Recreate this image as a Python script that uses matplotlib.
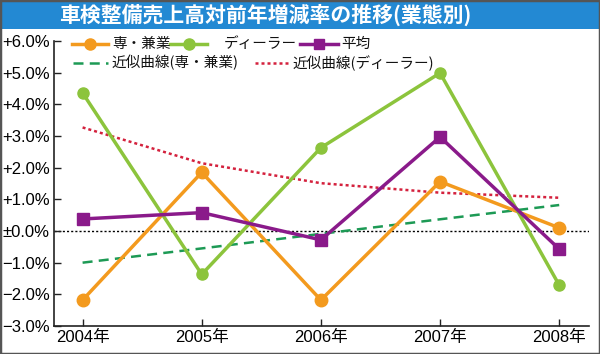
import matplotlib
matplotlib.use("Agg")
import matplotlib.pyplot as plt
from matplotlib.lines import Line2D
from matplotlib.patches import Rectangle

plt.rcParams['font.family'] = ['Noto Sans CJK JP', 'DejaVu Sans']

years = ["2004年", "2005年", "2006年", "2007年", "2008年"]
senken = [-2.18, 1.85, -2.18, 1.56, 0.10]
dealer = [4.36, -1.37, 2.63, 4.99, -1.71]
average = [0.38, 0.58, -0.28, 2.97, -0.57]
trend_senken = [-1.00, -0.55, -0.09, 0.37, 0.82]
trend_dealer = [3.27, 2.14, 1.51, 1.21, 1.05]
yticks = [-3, -2, -1, 0, 1, 2, 3, 4, 5, 6]
ytick_labels = ["−3.0%", "−2.0%", "−1.0%", "±0.0%", "+1.0%", "+2.0%",
                "+3.0%", "+4.0%", "+5.0%", "+6.0%"]
title = "車検整備売上高対前年増減率の推移(業態別)"

c_orange = "#f39a1e"
c_green = "#8cc43c"
c_purple = "#8a1a8a"
c_dgreen = "#1d9a55"
c_red = "#d4213d"

tick_font = ['Liberation Sans', 'Noto Sans CJK JP', 'DejaVu Sans']

W, H = 600, 354
fig = plt.figure(figsize=(6, 3.54), dpi=100)
ax = fig.add_axes([54 / W, 1 - 326 / H, (589 - 54) / W, (326 - 41) / H])

x = list(range(len(years)))
ax.axhline(0, color="black", lw=1.0, ls=(0, (1.5, 1.5)), zorder=1)
ax.plot(x, trend_senken, color=c_dgreen, lw=1.8, ls=(0, (4, 2.5)), zorder=2)
ax.plot(x, trend_dealer, color=c_red, lw=1.8, ls=(0, (1.2, 1.2)), zorder=2)
ax.plot(x, senken, color=c_orange, lw=2.5, marker="o", ms=9, zorder=3)
ax.plot(x, dealer, color=c_green, lw=2.5, marker="o", ms=8, zorder=3)
ax.plot(x, average, color=c_purple, lw=2.5, marker="s", ms=8, zorder=4)

ax.set_xlim(-0.24, 4.25)
ax.set_ylim(-3, 6)
ax.set_xticks(x)
ax.set_xticklabels(years, fontsize=12, family=tick_font)
ax.set_yticks(yticks)
ax.set_yticklabels(ytick_labels, fontsize=12, family=tick_font)
ax.tick_params(direction="in", length=5, width=1.0, color="#222222", pad=3)
for s in ["top", "right"]:
    ax.spines[s].set_visible(False)
for s in ["left", "bottom"]:
    ax.spines[s].set_linewidth(1.2)
    ax.spines[s].set_color("#222222")

# title banner
fig.add_artist(Rectangle((0, 1 - 29 / H), 1, 29 / H, transform=fig.transFigure,
                         facecolor="#2389d3", edgecolor="none", zorder=0))
fig.text(265 / W, 1 - 15 / H, title, color="white", fontsize=15, fontweight="bold",
         ha="center", va="center")

# frame
fig.add_artist(Rectangle((0, 0), 1, 1, transform=fig.transFigure, facecolor="none",
                         edgecolor="#555555", lw=2.5, zorder=10))

# legend (manual)
def leg(x0, x1, y, tx, label, color, lw, ls="-", marker=None, ms=0):
    yf = 1 - y / H
    fig.add_artist(Line2D([x0 / W, x1 / W], [yf, yf], transform=fig.transFigure,
                          color=color, lw=lw, ls=ls))
    if marker:
        fig.add_artist(Line2D([(x0 + x1) / 2 / W], [yf], transform=fig.transFigure,
                              color=color, marker=marker, ms=ms, lw=0))
    fig.text(tx / W, yf, label, fontsize=10.5, va="center", ha="left", color="#111111")

leg(72, 108, 44, 112, "専・兼業", c_orange, 2.5, marker="o", ms=8)
leg(170, 207, 44, 224, "ディーラー", c_green, 2.5, marker="o", ms=8)
leg(300, 338, 44, 341, "平均", c_purple, 2.5, marker="s", ms=7)
leg(73, 108, 63, 111, "近似曲線(専・兼業)", c_dgreen, 1.8, ls=(0, (4, 2.5)))
leg(255, 290, 63, 292, "近似曲線(ディーラー)", c_red, 1.8, ls=(0, (1.2, 1.2)))

fig.savefig("out.png", dpi=100)
